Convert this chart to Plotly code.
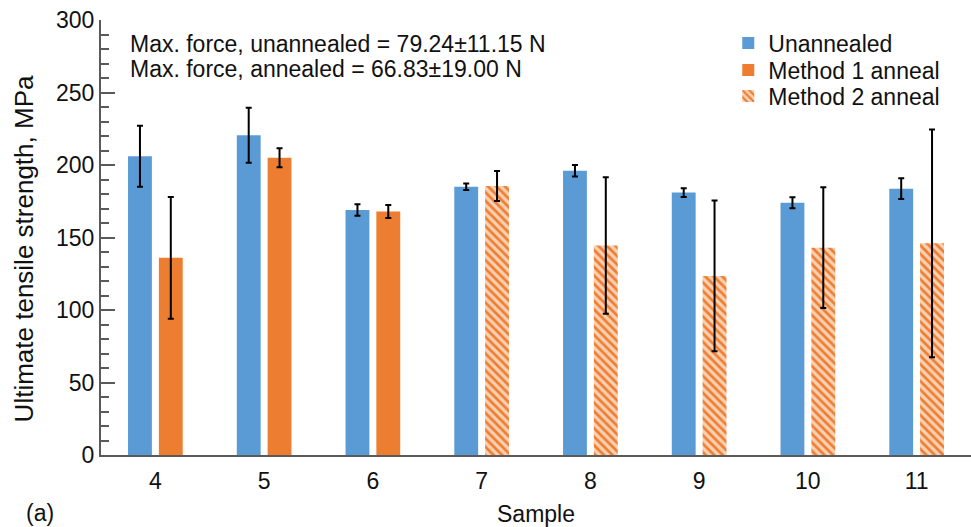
import plotly.graph_objects as go

# Samples and tensile strength (MPa) with standard deviations
samples = ["4", "5", "6", "7", "8", "9", "10", "11"]

unannealed = [206, 220.5, 169, 185, 196, 181, 174, 183.7]
unannealed_err = [21, 19, 4, 2.3, 4, 3, 3.8, 7.2]

method1_samples = ["4", "5", "6"]
method1 = [136, 205, 168]
method1_err = [42, 6.5, 4.5]

method2_samples = ["7", "8", "9", "10", "11"]
method2 = [185.5, 144.5, 123.5, 143, 146]
method2_err = [10.3, 47, 52, 41.7, 78.5]

force_notes = [
    "Max. force, unannealed = 79.24±11.15 N",
    "Max. force, annealed = 66.83±19.00 N",
]

BLUE = "#5b9bd5"
ORANGE = "#ed7d31"
LIGHT_ORANGE = "#fad0b2"
FONT = "Liberation Sans, Arial, sans-serif"
TEXT = "#111111"
AXIS = "#5a5a5a"
FS = 23

err_style = dict(type="data", color="black", thickness=2, width=3)

fig = go.Figure()
fig.add_trace(go.Bar(
    x=samples, y=unannealed, name="Unannealed", offsetgroup="u",
    legend="legend",
    marker=dict(color=BLUE, line=dict(width=0)),
    error_y=dict(array=unannealed_err, **err_style),
))
fig.add_trace(go.Bar(
    x=method1_samples, y=method1, name="Method 1 anneal", offsetgroup="a",
    legend="legend2",
    marker=dict(color=ORANGE, line=dict(width=0)),
    error_y=dict(array=method1_err, **err_style),
))
fig.add_trace(go.Bar(
    x=method2_samples, y=method2, name="Method 2 anneal", offsetgroup="a",
    legend="legend3",
    marker=dict(
        color=LIGHT_ORANGE, line=dict(width=0),
        pattern=dict(shape="\\", fgcolor=ORANGE, bgcolor=LIGHT_ORANGE,
                     size=6, solidity=0.45, fillmode="replace"),
    ),
    error_y=dict(array=method2_err, **err_style),
))

for i, txt in enumerate(force_notes):
    fig.add_annotation(
        text=txt, xref="paper", yref="paper", x=0.031, y=0.945 - i * 0.058,
        xanchor="left", yanchor="middle", showarrow=False,
        font=dict(family=FONT, size=FS, color=TEXT),
    )

# Y-axis label placed beside the tick labels
fig.add_annotation(
    text="Ultimate tensile strength, MPa", xref="paper", yref="paper",
    x=-0.089, y=0.474, xanchor="center", yanchor="middle", textangle=-90,
    showarrow=False, font=dict(family=FONT, size=26, color=TEXT),
)

# Panel tag
fig.add_annotation(
    text="(a)", xref="paper", yref="paper", x=-0.089, y=-0.134,
    xanchor="left", yanchor="middle", showarrow=False,
    font=dict(family=FONT, size=FS, color=TEXT),
)

legend_style = dict(
    x=0.721, xanchor="left", yanchor="middle", bgcolor="rgba(0,0,0,0)",
    font=dict(size=FS, family=FONT, color=TEXT), borderwidth=0,
)

fig.update_layout(
    width=971, height=527,
    margin=dict(l=101, r=0, t=20, b=72),
    paper_bgcolor="white", plot_bgcolor="white",
    barmode="group", bargap=0.433, bargroupgap=0.226,
    font=dict(family=FONT, size=FS, color=TEXT),
    showlegend=True,
    legend=dict(y=0.947, **legend_style),
    legend2=dict(y=0.885, **legend_style),
    legend3=dict(y=0.825, **legend_style),
    xaxis=dict(
        type="category", categoryorder="array", categoryarray=samples,
        range=[-0.5, 7.5], showline=True, linecolor=AXIS, linewidth=2,
        ticks="", showgrid=False, zeroline=False, ticklabelstandoff=4,
        tickfont=dict(size=FS, family=FONT, color=TEXT),
        title=dict(text="Sample", font=dict(size=FS, family=FONT, color=TEXT),
                   standoff=13),
    ),
    yaxis=dict(
        range=[0, 300], dtick=50, tick0=0, showline=True, linecolor=AXIS,
        linewidth=2, ticks="inside", ticklen=14, tickwidth=1.5, tickcolor=AXIS,
        minor=dict(dtick=10, ticks="inside", ticklen=8, tickwidth=1.5,
                   tickcolor=AXIS, showgrid=False),
        showgrid=False, zeroline=False,
        tickfont=dict(size=FS, family=FONT, color=TEXT),
    ),
)

fig.write_html("out.html")
